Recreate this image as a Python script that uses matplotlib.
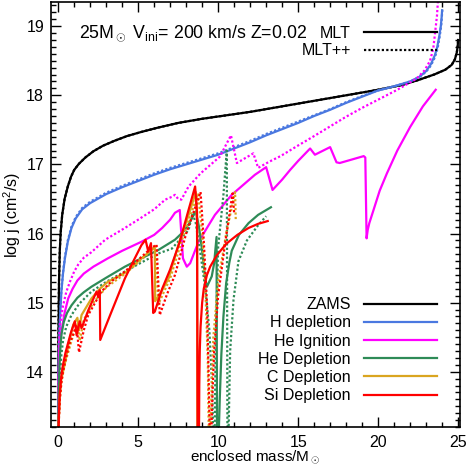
import matplotlib
matplotlib.use("Agg")
import matplotlib.pyplot as plt
from matplotlib.lines import Line2D
from matplotlib.ticker import MultipleLocator

plt.rcParams['font.family'] = ['Liberation Sans', 'DejaVu Sans']
plt.rcParams['mathtext.fontset'] = 'custom'
plt.rcParams['mathtext.rm'] = 'Liberation Sans'
plt.rcParams['mathtext.it'] = 'Liberation Sans'
plt.rcParams['mathtext.fallback'] = 'cm'

# ---------------- data ----------------
labels = ["ZAMS", "H depletion", "He Ignition", "He Depletion", "C Depletion", "Si Depletion"]
colors = ["black", "#4a78e0", "#ff00ff", "#2e8b57", "#daa520", "#ff0000"]

# MLT (solid)
zams_x = [0.0, 0.02, 0.05, 0.1, 0.15, 0.25, 0.4, 0.6, 0.8, 1.0, 1.3, 1.7, 2.2, 2.8, 3.5, 4.3, 5.2, 6.2, 7.5, 9.0, 10.5,
          12.0, 14.0, 16.0, 18.0, 20.0, 21.5, 22.5, 23.5, 24.2, 24.6, 24.8, 24.92, 24.98, 25.0]
zams_y = [13.0, 14.6, 15.3, 15.75, 16.0, 16.27, 16.5, 16.68, 16.82, 16.92, 17.01, 17.1, 17.19, 17.27, 17.34, 17.41, 17.47, 17.53, 17.6, 17.66, 17.71,
          17.76, 17.84, 17.92, 18.0, 18.08, 18.15, 18.22, 18.3, 18.37, 18.44, 18.52, 18.62, 18.72, 18.8]

hdep_x = [0.0, 0.03, 0.06, 0.1, 0.15, 0.2, 0.3, 0.42, 0.6, 0.83, 1.1, 1.5, 2.0, 3.0, 4.0, 5.0, 6.0, 7.0, 8.0, 9.0, 10.0, 11.0,
          12.0, 13.0, 14.0, 15.0, 16.0, 17.0, 18.0, 19.0, 20.0, 21.0, 22.0, 22.6, 23.0, 23.3, 23.55, 23.7, 23.82, 23.92, 23.98, 24.0]
hdep_y = [13.0, 14.0, 14.45, 14.7, 14.95, 15.16, 15.42, 15.64, 15.88, 16.08, 16.22, 16.35, 16.44, 16.57, 16.67, 16.76, 16.85, 16.93, 17.0, 17.07, 17.14, 17.23,
          17.32, 17.42, 17.51, 17.6, 17.7, 17.79, 17.89, 17.98, 18.07, 18.13, 18.2, 18.27, 18.35, 18.45, 18.58, 18.7, 18.85, 19.0, 19.15, 19.23]

heig_x = [0.0, 0.03, 0.08, 0.15, 0.25, 0.4, 0.625, 0.9, 1.2, 1.6, 2.2, 3.1, 4.0, 5.2, 6.0, 6.5, 7.0, 7.3, 7.6, 7.8, 8.04, 8.25,
          8.77, 9.8, 10.85, 12.3, 13.0, 13.4, 14.0, 14.5, 15.0, 15.75, 16.05, 17.0, 17.4, 17.6, 19.1, 19.2, 19.28,
          19.35, 19.45, 19.7, 20.1, 20.55, 21.2, 22.0, 22.8, 23.6]
heig_y = [13.0, 13.9, 14.3, 14.5, 14.65, 14.85, 15.06, 15.2, 15.32, 15.42, 15.52, 15.64, 15.75, 15.88, 15.98, 16.08, 16.2, 16.3, 16.34, 15.64, 15.52, 15.57,
          15.88, 16.27, 16.56, 16.85, 16.96, 16.63, 16.78, 16.92, 17.05, 17.23, 17.14, 17.25, 17.03, 17.02, 17.12, 17.1, 15.93,
          16.05, 16.15, 16.33, 16.62, 16.87, 17.2, 17.54, 17.84, 18.08]

hedep_x = [0.0, 0.03, 0.08, 0.15, 0.21, 0.35, 0.55, 0.83, 1.2, 1.6, 2.08, 3.0, 4.17, 5.2, 6.25, 7.3, 7.8, 8.2, 8.5, 8.6, 8.8, 9.0,
           9.2, 9.3, 9.6, 9.75, 9.9, 9.93, 10.02, 10.05, 10.1, 10.2, 10.33, 10.5, 10.7, 10.85, 11.3, 11.9, 12.5, 13.3]
hedep_y = [13.0, 13.7, 14.1, 14.4, 14.55, 14.72, 14.85, 14.96, 15.07, 15.15, 15.23, 15.36, 15.52, 15.64, 15.76, 15.91, 16.02, 16.15, 16.28, 16.32, 16.1, 15.75,
           15.33, 15.23, 15.38, 15.57, 15.95, 13.0, 13.0, 13.2, 13.6, 14.25, 14.8, 15.28, 15.58, 15.75, 15.98, 16.15, 16.27, 16.38]

cdep_x = [0.0, 0.05, 0.1, 0.2, 0.4, 0.65, 0.94, 1.2, 1.3, 1.46, 2.08, 2.6, 3.1, 3.75, 4.17, 5.2, 5.83, 6.04, 6.06, 6.5, 6.9,
          7.6, 8.2, 8.6, 8.68, 8.7]
cdep_y = [13.0, 13.4, 13.65, 13.9, 14.1, 14.4, 14.68, 14.78, 14.6, 14.82, 15.06, 15.2, 15.3, 15.38, 15.43, 15.64, 15.76, 15.81, 15.02, 15.18, 15.35,
          15.9, 16.3, 16.6, 16.2, 13.0]

sidep_x = [0.0, 0.05, 0.1, 0.2, 0.3, 0.45, 0.6, 0.8, 1.04, 1.15, 1.35, 1.46, 1.9, 2.4, 2.5, 2.6, 2.63, 3.3, 4.17, 4.7, 5.2, 5.46,
           5.63, 5.8, 5.94, 6.04, 6.5, 7.0, 7.6, 8.1, 8.56, 8.68, 8.72, 8.8, 8.82, 8.85, 8.9, 9.0, 9.1, 9.3, 9.5, 9.9,
           10.5, 11.2, 11.9, 12.5, 13.1]
sidep_y = [13.0, 13.4, 13.7, 13.95, 14.1, 14.27, 14.4, 14.57, 14.73, 14.53, 14.73, 14.63, 14.9, 15.16, 15.08, 15.18, 14.46, 14.85, 15.35, 15.6, 15.83, 15.91,
           15.74, 15.86, 14.85, 14.87, 15.2, 15.48, 15.88, 16.3, 16.68, 16.3, 13.0, 13.0, 13.8, 14.3, 14.65, 15.0, 15.2, 15.4, 15.52, 15.68,
           15.85, 15.98, 16.08, 16.14, 16.18]

# MLT++ (dotted)
zams_pp_x = zams_x
zams_pp_y = zams_y

hdep_pp_x = [0.0, 0.03, 0.06, 0.1, 0.15, 0.2, 0.3, 0.42, 0.6, 0.83, 1.1, 1.5, 2.0, 3.0, 4.0, 5.0, 6.0, 7.0, 8.0, 9.0, 10.0, 11.0,
             12.0, 13.0, 14.0, 15.0, 16.0, 17.0, 18.0, 19.0, 20.0, 21.0, 22.0, 22.6, 23.0, 23.3, 23.55, 23.72, 23.85, 23.95, 24.02]
hdep_pp_y = [13.0, 14.02, 14.47, 14.72, 14.97, 15.18, 15.44, 15.66, 15.9, 16.1, 16.24, 16.37, 16.46, 16.59, 16.69, 16.78, 16.87, 16.95, 17.02, 17.09, 17.16, 17.25,
             17.34, 17.44, 17.53, 17.62, 17.71, 17.8, 17.9, 17.99, 18.07, 18.13, 18.2, 18.27, 18.34, 18.43, 18.55, 18.68, 18.85, 19.02, 19.25]

heig_pp_x = [0.0, 0.05, 0.125, 0.3, 0.5, 0.73, 1.0, 1.25, 1.6, 2.08, 2.94, 4.17, 5.0, 6.0, 6.69, 7.1, 7.3, 7.5, 7.7, 8.15, 8.9,
             10.1, 10.8, 11.17, 12.2, 12.5, 13.2, 13.9, 14.9, 16.0, 17.0, 18.0, 19.1, 20.2, 21.2, 22.4, 22.9, 23.25, 23.45, 23.56, 23.68, 23.75]
heig_pp_y = [13.0, 14.4, 14.7, 14.95, 15.15, 15.3, 15.45, 15.55, 15.65, 15.73, 15.91, 16.08, 16.2, 16.35, 16.49, 16.53, 16.56, 16.5, 16.49, 16.68, 16.87,
             17.11, 17.42, 17.02, 17.16, 16.95, 17.04, 17.12, 17.26, 17.41, 17.55, 17.69, 17.83, 17.96, 18.08, 18.24, 18.36, 18.5, 18.68, 18.9, 19.15, 19.4]

hedep_pp_x = [0.0, 0.05, 0.1, 0.2, 0.3, 0.5, 0.83, 1.3, 2.08, 3.0, 4.17, 5.2, 6.25, 7.1, 8.15, 8.4, 8.6, 8.9, 9.2, 9.45, 9.62,
              9.7, 9.78, 9.85, 10.0, 10.33, 10.54, 10.58, 10.64, 10.75, 10.96, 11.27, 11.8, 12.5, 13.0]
hedep_pp_y = [13.0, 13.6, 13.9, 14.25, 14.45, 14.65, 14.82, 14.98, 15.16, 15.3, 15.45, 15.58, 15.71, 15.78, 16.05, 16.3, 16.15, 15.7, 15.2, 14.6, 13.8,
              13.0, 13.0, 14.5, 15.8, 16.56, 17.2, 13.0, 13.0, 14.3, 15.04, 15.6, 15.9, 16.12, 16.25]

cdep_pp_x = [0.0, 0.05, 0.1, 0.2, 0.4, 0.9, 1.2, 1.35, 1.6, 2.2, 3.0, 4.2, 5.2, 6.1, 6.25, 6.6, 7.0, 7.8, 8.75, 9.0, 9.2, 9.35,
             9.42, 9.5, 9.6, 9.7, 10.0, 10.5, 11.06, 11.1]
cdep_pp_y = [13.0, 13.35, 13.6, 13.85, 14.1, 14.5, 14.7, 14.45, 14.75, 15.0, 15.22, 15.42, 15.62, 15.82, 14.97, 15.15, 15.35, 15.95, 16.58, 16.0, 15.2, 14.2,
             13.0, 13.0, 13.8, 14.5, 15.3, 16.0, 16.6, 16.2]

sidep_pp_x = [0.0, 0.05, 0.1, 0.2, 0.3, 0.5, 0.7, 0.95, 1.15, 1.3, 1.6, 1.875, 2.7, 3.4, 4.17, 5.0, 5.83, 6.15, 6.35, 6.8, 7.3, 8.0,
              8.9, 9.1, 9.3, 9.4, 9.48, 9.56, 9.65, 9.75, 10.0, 10.4, 10.9, 11.0]
sidep_pp_y = [13.0, 13.35, 13.6, 13.85, 14.0, 14.22, 14.4, 14.55, 14.68, 14.28, 14.6, 14.82, 15.16, 15.32, 15.45, 15.62, 15.79, 15.84, 14.82, 15.12, 15.4, 16.0,
              16.6, 15.9, 15.0, 14.0, 13.0, 13.0, 13.7, 14.3, 15.1, 15.8, 16.58, 16.3]

solid_x = [zams_x, hdep_x, heig_x, hedep_x, cdep_x, sidep_x]
solid_y = [zams_y, hdep_y, heig_y, hedep_y, cdep_y, sidep_y]
dot_x = [zams_pp_x, hdep_pp_x, heig_pp_x, hedep_pp_x, cdep_pp_x, sidep_pp_x]
dot_y = [zams_pp_y, hdep_pp_y, heig_pp_y, hedep_pp_y, cdep_pp_y, sidep_pp_y]

xticks = [0, 5, 10, 15, 20, 25]
yticks = [14, 15, 16, 17, 18, 19]

# ---------------- figure ----------------
fig = plt.figure(figsize=(4.68, 4.70), dpi=100)
ax = fig.add_axes([51/468, 1-427/470, (460-51)/468, (427-2)/470])

lw = 1.6
dot = (0, (1, 1))
for i in range(len(labels)):
    ax.plot(dot_x[i], dot_y[i], color=colors[i], lw=lw, ls=dot)
    ax.plot(solid_x[i], solid_y[i], color=colors[i], lw=lw, ls='-')

ax.set_xlim(-0.45, 25.12)
ax.set_ylim(13.2, 19.35)
ax.set_xticks(xticks)
ax.set_yticks(yticks)
ax.xaxis.set_minor_locator(MultipleLocator(1))
ax.yaxis.set_minor_locator(MultipleLocator(0.1))
ax.tick_params(which='both', direction='in', top=True, right=True, labelsize=11.5, width=1.0)
ax.tick_params(which='major', length=7)
ax.tick_params(which='minor', length=3.5)
ax.tick_params(axis='x', pad=6)
ax.tick_params(axis='y', pad=5)
for s in ax.spines.values():
    s.set_linewidth(1.2)

ax.set_xlabel(r"enclosed mass/M$_\odot$", fontsize=11, labelpad=-1)
ax.set_ylabel(r"log j (cm$^2$/s)", fontsize=11.5, labelpad=2)

ax.text(0.068, 0.927, r"25M$_\odot$ V$_{\rm ini}$= 200 km/s Z=0.02",
        transform=ax.transAxes, fontsize=12.8, va='center', ha='left')

# legends
h1 = [Line2D([], [], color='black', lw=lw, ls='-'),
      Line2D([], [], color='black', lw=lw, ls=dot)]
leg1 = ax.legend(h1, ["MLT", "MLT++"], loc='upper right', bbox_to_anchor=(0.944, 0.944),
                 frameon=False, markerfirst=False, fontsize=11.5, handlelength=4.6,
                 handletextpad=0.8, labelspacing=0.15, borderpad=0, borderaxespad=0)
ax.add_artist(leg1)

h2 = [Line2D([], [], color=c, lw=lw) for c in colors]
ax.legend(h2, labels, loc='lower right', bbox_to_anchor=(0.944, 0.056),
          frameon=False, markerfirst=False, fontsize=11.5, handlelength=4.6,
          handletextpad=0.8, labelspacing=0.2, borderpad=0, borderaxespad=0)

fig.savefig("out.png", dpi=100)
